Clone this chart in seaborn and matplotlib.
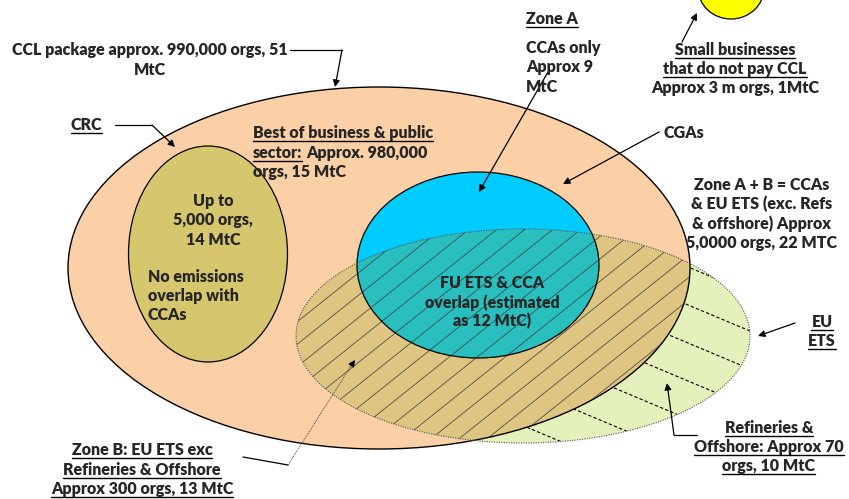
import numpy as np
import matplotlib.pyplot as plt
from matplotlib.patches import Ellipse, Polygon
import seaborn as sns

# ==============================
# FIGURES SHOWN ON THE DIAGRAM
# ==============================

ccl_orgs, ccl_mtc = "990,000", "51"
bob_orgs, bob_mtc = "980,000", "15"
crc_orgs, crc_mtc = "5,000", "14"
zone_a_mtc = "9"
overlap_mtc = "12"
zone_ab_orgs, zone_ab_mtc = "5,0000", "22"
zone_b_orgs, zone_b_mtc = "300", "13"
ref_orgs, ref_mtc = "70", "10"
small_orgs, small_mtc = "3 m", "1"

# ==============================
# LAYOUT (pixel space, y down)
# ==============================

CCL = ((379, 268), 622, 362)
CRC = ((208, 254), 159, 216)
CGA = ((478, 265), 242, 186)
ETS = ((523, 336), 454, 214)
SMALL = ((731, -12), 66, 62)

peach = "#FCD0A6"
green = "#E4F1BB"
tan = "#DEC682"
olive = "#D6C76E"
blue = "#00CCFF"
teal = "#2ABFBF"
FS = 11.5

sns.set_style("white")
plt.rcParams["font.family"] = ["Lato", "DejaVu Sans"]

fig = plt.figure(figsize=(8.49, 4.99), dpi=100)
ax = fig.add_axes([0, 0, 1, 1])
ax.set_xlim(0, 849)
ax.set_ylim(499, 0)
ax.set_axis_off()


def ell(shape, **kw):
    (cx, cy), w, h = shape
    return Ellipse((cx, cy), w, h, **kw)


def ell_pts(shape, n=720):
    (cx, cy), w, h = shape
    t = np.linspace(0, 2 * np.pi, n, endpoint=False)
    return np.column_stack([cx + w / 2 * np.cos(t), cy + h / 2 * np.sin(t)])


def inside(p, shape):
    (cx, cy), w, h = shape
    return ((p[:, 0] - cx) / (w / 2)) ** 2 + ((p[:, 1] - cy) / (h / 2)) ** 2 <= 1


def overlap(a, b):
    # both convex, so sort the boundary bits by angle
    pa, pb = ell_pts(a), ell_pts(b)
    pts = np.vstack([pa[inside(pa, b)], pb[inside(pb, a)]])
    m = pts.mean(axis=0)
    return pts[np.argsort(np.arctan2(pts[:, 1] - m[1], pts[:, 0] - m[0]))]


# ==============================
# SHAPES
# ==============================

ets_fill = ax.add_patch(ell(ETS, fc=green, ec="none", zorder=1))

# dashed hatch on refineries & offshore part
xs = np.array([450, 800])
for c in np.arange(-60, 320, 38):
    ln, = ax.plot(xs, c + 0.42 * xs, ls=(0, (3, 2)), color="black", lw=0.8, zorder=1.5)
    ln.set_clip_path(ets_fill)

ax.add_patch(ell(CCL, fc=peach, ec="none", zorder=2))
zone_b = ax.add_patch(Polygon(overlap(CCL, ETS), closed=True, fc=tan, ec="none", zorder=3))
ax.add_patch(ell(CRC, fc=olive, ec="black", lw=0.9, zorder=3))
ax.add_patch(ell(CGA, fc=blue, ec="none", zorder=4))
ax.add_patch(Polygon(overlap(CGA, ETS), closed=True, fc=teal, ec="none", zorder=5))

# diagonal hatch on the CCL / EU ETS overlap
xs = np.array([250, 760])
for c in np.arange(470, 1020, 22.4):
    ln, = ax.plot(xs, c - 0.8 * xs, color="#3a3a3a", lw=0.5, zorder=6)
    ln.set_clip_path(zone_b)

ax.add_patch(ell(CCL, fc="none", ec="black", lw=1.0, zorder=7))
ax.add_patch(ell(CGA, fc="none", ec="black", lw=0.9, zorder=7))
ax.add_patch(ell(ETS, fc="none", ec="#555555", lw=0.8, ls=(0, (1, 1.2)), zorder=7))
ax.add_patch(ell(SMALL, fc="#FFFF00", ec="black", lw=0.9, zorder=7))

# ==============================
# TEXT
# ==============================

under = []


def put(x, y, s, ha="left", ul=False):
    t = ax.text(x, y, s, ha=ha, va="baseline", fontsize=FS, fontweight="heavy", zorder=10)
    if ul:
        under.append((t, y))
    return t


put(150, 55, f"CCL package approx. {ccl_orgs} orgs, {ccl_mtc}", ha="center")
put(150, 75, "MtC", ha="center")

put(71, 130, "CRC", ul=True)

put(253, 138, "Best of business & public", ul=True)
rend = fig.canvas.get_renderer()
t = put(253, 158, "sector:", ul=True)
x_end = ax.transData.inverted().transform((t.get_window_extent(rend).x1, 0))[0]
put(x_end + 4, 158, f"Approx. {bob_orgs}")
put(253, 177, f"orgs, {bob_mtc} MtC")

put(526, 24, "Zone A", ul=True)
put(526, 53, "CCAs only")
put(526, 72, f"Approx {zone_a_mtc}")
put(526, 92, "MtC")

put(735, 55, "Small businesses", ha="center", ul=True)
put(735, 74, "that do not pay CCL", ha="center", ul=True)
put(735, 93, f"Approx {small_orgs} orgs, {small_mtc}MtC", ha="center")

put(664, 138, "CGAs")

put(762, 190, "Zone A + B = CCAs", ha="center")
put(762, 209, "& EU ETS (exc. Refs", ha="center")
put(762, 229, "& offshore) Approx", ha="center")
put(762, 248, f"{zone_ab_orgs} orgs, {zone_ab_mtc} MTC", ha="center")

put(213, 206, "Up to", ha="center")
put(213, 225, f"{crc_orgs} orgs,", ha="center")
put(213, 245, f"{crc_mtc} MtC", ha="center")
put(148, 282, "No emissions")
put(148, 301, "overlap with")
put(148, 320, "CCAs")

put(492, 288, "FU ETS & CCA", ha="center")
put(492, 308, "overlap (estimated", ha="center")
put(492, 326, f"as {overlap_mtc} MtC)", ha="center")

put(822, 327, "EU", ha="center", ul=True)
put(822, 346, "ETS", ha="center", ul=True)

put(769, 433, "Refineries &", ha="center", ul=True)
put(769, 452, f"Offshore: Approx {ref_orgs}", ha="center", ul=True)
put(769, 471, f"orgs, {ref_mtc} MtC", ha="center", ul=True)

put(142, 455, "Zone B: EU ETS exc", ha="center", ul=True)
put(142, 475, "Refineries & Offshore", ha="center", ul=True)
put(142, 494, f"Approx {zone_b_orgs} orgs, {zone_b_mtc} MtC", ha="center", ul=True)

inv = ax.transData.inverted()
for t, y in under:
    bb = t.get_window_extent(rend)
    x0 = inv.transform((bb.x0, 0))[0]
    x1 = inv.transform((bb.x1, 0))[0]
    ax.plot([x0, x1], [y + 2.5, y + 2.5], color="black", lw=1.0, zorder=10)

# ==============================
# LEADERS
# ==============================


def leader(pts, ls="-", color="black", lw=0.9):
    pts = np.array(pts, dtype=float)
    if len(pts) > 2:
        ax.plot(pts[:-1, 0], pts[:-1, 1], color=color, lw=lw, ls=ls, zorder=9)
    ax.annotate("", xy=pts[-1], xytext=pts[-2], zorder=9,
                arrowprops=dict(arrowstyle="-|>", color=color, lw=lw, ls=ls,
                                mutation_scale=10, shrinkA=0, shrinkB=0))


leader([(290, 50), (342, 50), (335, 87)])
leader([(115, 125), (152, 125), (175, 147)])
leader([(548, 72), (479, 192)])
leader([(659, 132), (563, 184)])
leader([(682, 42), (697, 13)])
leader([(795, 323), (758, 336)])
leader([(697, 435), (674, 435), (667, 383)])

ax.plot([243, 288], [457, 465], color="black", lw=0.9, zorder=9)
ax.plot([288, 351], [465, 366], color="#444444", lw=0.7, ls=(0, (1, 1)), zorder=9)
leader([(351, 366), (355, 360)], lw=0.7)

plt.savefig("out.png", dpi=100)
